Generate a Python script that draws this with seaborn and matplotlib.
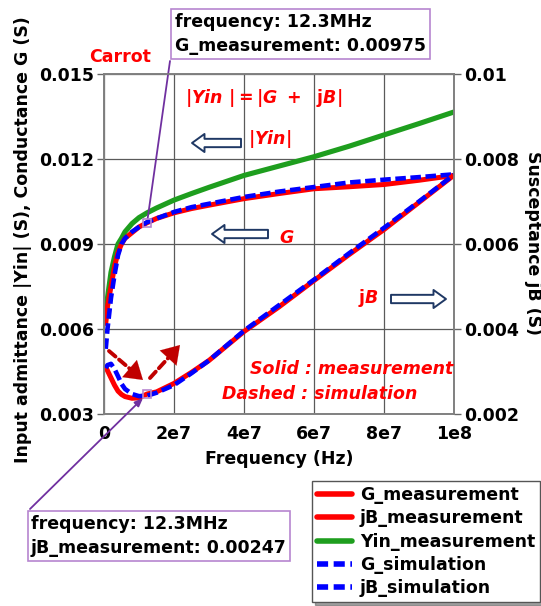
import numpy as np
import pandas as pd
import matplotlib
matplotlib.use("Agg")
import matplotlib.pyplot as plt
from matplotlib.lines import Line2D
import seaborn as sns

# frequency points (Hz)
freq = [0.5e6, 1e6, 2e6, 3e6, 4e6, 5e6, 6e6, 8e6, 10e6, 12.3e6, 15e6, 20e6,
        25e6, 30e6, 40e6, 50e6, 60e6, 70e6, 80e6, 90e6, 100e6]

# left axis (S)
G_meas = [0.0062, 0.0068, 0.0075, 0.0082, 0.0087, 0.0090, 0.0092, 0.0094, 0.0096, 0.00975, 0.0099, 0.0101,
          0.01025, 0.01037, 0.0106, 0.01078, 0.01095, 0.01102, 0.0111, 0.01125, 0.01142]
G_sim = [0.0053, 0.0060, 0.0071, 0.0079, 0.0086, 0.0090, 0.0092, 0.00943, 0.0096, 0.00977, 0.0099, 0.01013,
         0.0103, 0.01042, 0.01066, 0.01085, 0.01101, 0.01117, 0.01127, 0.01136, 0.01146]
Yin_meas = [0.0064, 0.0071, 0.0080, 0.00855, 0.0090, 0.0092, 0.00943, 0.00972, 0.00993, 0.0101, 0.01027, 0.01055,
            0.01078, 0.0110, 0.01142, 0.01175, 0.01208, 0.01245, 0.01285, 0.01325, 0.01366]

# right axis (S)
jB_meas = [0.0031, 0.00302, 0.00285, 0.00268, 0.00254, 0.00246, 0.00241, 0.00237, 0.00238, 0.00247, 0.00252, 0.00272,
           0.00298, 0.00326, 0.00394, 0.00452, 0.00514, 0.00575, 0.00634, 0.00698, 0.00762]
jB_sim = [0.00308, 0.00315, 0.00318, 0.00306, 0.00289, 0.00271, 0.00259, 0.00247, 0.00242, 0.00243, 0.0025, 0.00268,
          0.00296, 0.00326, 0.00396, 0.00456, 0.00516, 0.00578, 0.00638, 0.007, 0.00763]

x_ticks = [0, 2e7, 4e7, 6e7, 8e7, 1e8]
x_labels = ["0", "2e7", "4e7", "6e7", "8e7", "1e8"]
yl_ticks = [0.003, 0.006, 0.009, 0.012, 0.015]
yl_labels = ["0.003", "0.006", "0.009", "0.012", "0.015"]
yr_ticks = [0.002, 0.004, 0.006, 0.008, 0.01]
yr_labels = ["0.002", "0.004", "0.006", "0.008", "0.01"]

sns.set_style("white")
plt.rcParams["font.family"] = ["DejaVu Sans"]
plt.rcParams["font.weight"] = "bold"
plt.rcParams["axes.labelweight"] = "bold"
plt.rcParams["mathtext.fontset"] = "dejavusans"
for k in ("text.color", "axes.labelcolor", "xtick.color", "ytick.color"):
    plt.rcParams[k] = "black"

W, H = 541, 606


def px(x, y):
    return (x / W, 1 - y / H)


RED = "#FF0000"
GREEN = "#1E9E1E"
BLUE = "#0000FF"
NAVY = "#1F3864"
FS = 12.5
dash = (0, (2.3, 1.0))

fig = plt.figure(figsize=(W / 100, H / 100), dpi=100)
ax = fig.add_axes([104 / W, 1 - 414 / H, 350 / W, 340 / H])
ax2 = ax.twinx()

sns.lineplot(x=freq, y=Yin_meas, ax=ax, color=GREEN, lw=3.7, legend=False)
sns.lineplot(x=freq, y=G_meas, ax=ax, color=RED, lw=3.6, legend=False)
sns.lineplot(x=freq, y=G_sim, ax=ax, color=BLUE, lw=3.3, linestyle=dash, legend=False)
sns.lineplot(x=freq, y=jB_meas, ax=ax2, color=RED, lw=3.6, legend=False)
sns.lineplot(x=freq, y=jB_sim, ax=ax2, color=BLUE, lw=3.3, linestyle=dash, legend=False)

ax.set_xlim(0, 1e8)
ax.set_ylim(0.003, 0.015)
ax2.set_ylim(0.002, 0.01)
ax.set_xticks(x_ticks)
ax.set_xticklabels(x_labels)
ax.set_yticks(yl_ticks)
ax.set_yticklabels(yl_labels)
ax2.set_yticks(yr_ticks)
ax2.set_yticklabels(yr_labels)

ax.grid(True, color="#5a5a5a", lw=0.9)
ax2.grid(False)
for a in (ax, ax2):
    a.tick_params(labelsize=FS, length=5, width=1, color="#666666", labelcolor="black", pad=2, direction="out")
    for s in a.spines.values():
        s.set_color("#808080")
        s.set_linewidth(1.2)
ax.tick_params(axis="x", pad=3)

ax.set_xlabel("Frequency (Hz)", fontsize=FS, va="center")
ax.xaxis.set_label_coords(0.5, (414 - 459) / 340)
ax.set_ylabel("Input admittance |Yin| (S), Conductance G (S)", fontsize=FS, va="center")
ax.yaxis.set_label_coords((23 - 104) / 350, (414 - 240) / 340)
ax2.set_ylabel("Susceptance jB (S)", fontsize=FS, rotation=270, va="center")
ax2.yaxis.set_label_coords((533 - 104) / 350, (414 - 243) / 340)

# data tips
i = freq.index(12.3e6)
PURPLE = "#7030A0"
BOXC = "#B685D0"
ax.plot([freq[i]], [G_meas[i]], marker="s", ms=6, mfc="none", mec=BOXC, mew=1.2, zorder=5)
ax2.plot([freq[i]], [jB_meas[i]], marker="s", ms=6, mfc="none", mec=BOXC, mew=1.2, zorder=5)

fig.text(*px(175, 34), f"frequency: 12.3MHz\nG_measurement: {G_meas[i]:.5f}", fontsize=FS,
         ha="left", va="center", linespacing=1.45, color="black",
         bbox=dict(boxstyle="square,pad=0.25", fc="white", ec=BOXC, lw=1.2))
fig.text(*px(31, 536), f"frequency: 12.3MHz\njB_measurement: {jB_meas[i]:.5f}", fontsize=FS,
         ha="left", va="center", linespacing=1.45, color="black",
         bbox=dict(boxstyle="square,pad=0.2", fc="white", ec=BOXC, lw=1.2))
ax.annotate("", xy=(freq[i], G_meas[i]), xycoords="data", xytext=px(170, 61), textcoords="figure fraction",
            arrowprops=dict(arrowstyle="-", color=PURPLE, lw=1.3, shrinkA=0, shrinkB=3))
ax2.annotate("", xy=(freq[i], jB_meas[i]), xycoords="data", xytext=px(30, 509), textcoords="figure fraction",
             arrowprops=dict(arrowstyle="-|>,head_length=0.5,head_width=0.2", color=PURPLE, lw=1.3,
                             shrinkA=0, shrinkB=4))

# in-plot texts
fig.text(*px(120, 57), "Carrot", color=RED, fontsize=FS, ha="center", va="center")
fig.text(*px(264, 98), r"$\mathbf{|}\mathbfit{Yin}\ \mathbf{|=|}\mathbfit{G}\mathbf{\ +\ \ j}\mathbfit{B}\mathbf{|}$",
         color=RED, fontsize=FS, ha="center", va="center")
fig.text(*px(270, 139), r"$\mathbf{|}\mathbfit{Yin}\mathbf{|}$", color=RED, fontsize=FS, ha="center", va="center")
fig.text(*px(286, 238), "G", color=RED, fontsize=FS, style="italic", ha="center", va="center")
fig.text(*px(368, 298), r"$\mathbf{j}\mathbfit{B}$", color=RED, fontsize=FS, ha="center", va="center")
fig.text(*px(250, 369), "Solid : measurement", color=RED, fontsize=FS, style="italic", ha="left", va="center")
fig.text(*px(222, 394), "Dashed : simulation", color=RED, fontsize=FS, style="italic", ha="left", va="center")

hollow = dict(arrowstyle="simple,head_length=0.45,head_width=0.65,tail_width=0.3", fc="white", ec=NAVY,
              lw=1.4, mutation_scale=20, shrinkA=0, shrinkB=0)
ax.annotate("", xy=px(192, 143), xycoords="figure fraction", xytext=px(241, 143), arrowprops=hollow)
ax.annotate("", xy=px(212, 234), xycoords="figure fraction", xytext=px(268, 234), arrowprops=hollow)
ax.annotate("", xy=px(446, 299), xycoords="figure fraction", xytext=px(391, 299), arrowprops=hollow)

# dashed dark-red arrows: dashed shaft + solid head
DRED = "#C00000"


def dashed_arrow(x0, y0, x1, y1):
    ax.annotate("", xy=px(x1, y1), xycoords="figure fraction", xytext=px(x0, y0),
                arrowprops=dict(arrowstyle="-", color=DRED, lw=2.8, linestyle=(0, (2.2, 1.2)),
                                shrinkA=0, shrinkB=6))
    ax.annotate("", xy=px(x1, y1), xycoords="figure fraction",
                xytext=px(x1 - (x1 - x0) * 0.3, y1 - (y1 - y0) * 0.3),
                arrowprops=dict(arrowstyle="-|>,head_length=0.7,head_width=0.45", fc=DRED, ec=DRED,
                                lw=0.1, mutation_scale=18, shrinkA=0, shrinkB=0))


dashed_arrow(109, 351, 143, 380)
dashed_arrow(150, 378, 180, 345)

handles = [
    Line2D([], [], color=RED, lw=4),
    Line2D([], [], color=RED, lw=4),
    Line2D([], [], color=GREEN, lw=4),
    Line2D([], [], color=BLUE, lw=4, linestyle=(0, (2.0, 1.0))),
    Line2D([], [], color=BLUE, lw=4, linestyle=(0, (2.0, 1.0))),
]
labels = ["G_measurement", "jB_measurement", "Yin_measurement", "G_simulation", "jB_simulation"]
leg = fig.legend(handles, labels, loc="upper left", bbox_to_anchor=px(312, 481), frameon=True,
                 fancybox=False, shadow=True, edgecolor="#555555", prop=dict(weight="bold", size=FS),
                 handlelength=2.0, labelspacing=0.3, borderpad=0.3, handletextpad=0.45, borderaxespad=0)
leg.get_frame().set_linewidth(1.0)
for t in leg.get_texts():
    t.set_color("black")

fig.savefig("out.png", dpi=100)
